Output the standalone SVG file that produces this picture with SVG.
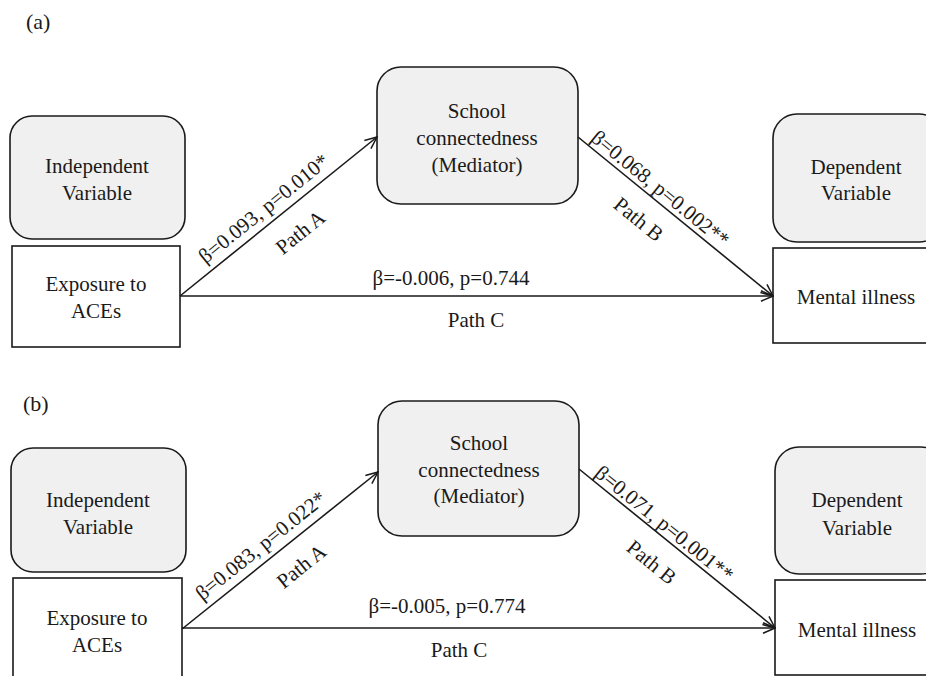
<svg xmlns="http://www.w3.org/2000/svg" width="926" height="676" viewBox="0 0 926 676">
<defs>
<marker id="arr" viewBox="0 0 14 12" refX="13" refY="6" markerWidth="14" markerHeight="12" markerUnits="userSpaceOnUse" orient="auto">
<path d="M1,0.8 L13,6 L1,11.2" fill="none" stroke="#1a1a1a" stroke-width="1.5"/>
</marker>
</defs>
<style>
text{font-family:"Liberation Serif","Times New Roman",serif;font-size:21px;fill:#1a1a1a;text-anchor:middle}
.lbl{font-size:22px;text-anchor:start}
.g{fill:#f0f0f0;stroke:#1a1a1a;stroke-width:1.6}
.w{fill:#ffffff;stroke:#1a1a1a;stroke-width:1.6}
.c{fill:none;stroke:#1a1a1a;stroke-width:1.6;marker-end:url(#arr)}
</style>
<rect width="926" height="676" fill="#ffffff"/>

<text class="lbl" x="26" y="29">(a)</text>
<text class="lbl" x="23" y="411">(b)</text>

<!-- Panel a nodes -->
<g id="a-indep"><rect class="g" x="10" y="116" width="175" height="123" rx="22"/><text x="97" y="173">Independent</text><text x="97" y="200">Variable</text></g>
<g id="a-exposure"><rect class="w" x="12" y="246" width="168" height="101"/><text x="96" y="291">Exposure to</text><text x="96" y="318">ACEs</text></g>
<g id="a-mediator"><rect class="g" x="377" y="67" width="201" height="137" rx="24"/><text x="477" y="118">School</text><text x="477" y="145">connectedness</text><text x="477" y="172">(Mediator)</text></g>
<g id="a-dep"><rect class="g" x="773" y="114" width="170" height="128" rx="24"/><text x="856" y="174">Dependent</text><text x="856" y="200">Variable</text></g>
<g id="a-mental"><rect class="w" x="773" y="248" width="170" height="95"/><text x="856" y="304">Mental illness</text></g>

<!-- Panel b nodes -->
<g id="b-indep"><rect class="g" x="11" y="448" width="175" height="124" rx="22"/><text x="98" y="507">Independent</text><text x="98" y="534">Variable</text></g>
<g id="b-exposure"><rect class="w" x="13" y="578" width="169" height="110"/><text x="97" y="625">Exposure to</text><text x="97" y="652">ACEs</text></g>
<g id="b-mediator"><rect class="g" x="378" y="401" width="201" height="135" rx="24"/><text x="479" y="450">School</text><text x="479" y="477">connectedness</text><text x="479" y="503">(Mediator)</text></g>
<g id="b-dep"><rect class="g" x="775" y="447" width="170" height="127" rx="24"/><text x="857" y="507">Dependent</text><text x="857" y="535">Variable</text></g>
<g id="b-mental"><rect class="w" x="775" y="580" width="170" height="95"/><text x="857" y="637">Mental illness</text></g>

<!-- Connectors -->
<g id="connectors">
<line class="c" x1="180" y1="296" x2="377" y2="137"/>
<line class="c" x1="578" y1="137" x2="773" y2="296"/>
<line class="c" x1="180" y1="296" x2="773" y2="296"/>
<line class="c" x1="182" y1="629" x2="378" y2="472"/>
<line class="c" x1="579" y1="469" x2="775" y2="628"/>
<line class="c" x1="182" y1="628" x2="775" y2="628"/>
</g>

<!-- Connector labels -->
<g id="labels">
<text transform="translate(268,214) rotate(-38.9)">β=0.093, p=0.010*</text>
<text transform="translate(301,233) rotate(-38.9)" y="6">Path A</text>
<text transform="translate(656,194) rotate(39.2)">β=0.068, p=0.002**</text>
<text transform="translate(638,220) rotate(39.2)" y="6">Path B</text>
<text x="451" y="285">β=-0.006, p=0.744</text>
<text x="476" y="327">Path C</text>

<text transform="translate(265,551) rotate(-38.7)">β=0.083, p=0.022*</text>
<text transform="translate(302,567) rotate(-38.7)" y="6">Path A</text>
<text transform="translate(660,529) rotate(39)">β=0.071, p=0.001**</text>
<text transform="translate(651,563) rotate(39)" y="6">Path B</text>
<text x="447" y="613">β=-0.005, p=0.774</text>
<text x="459" y="657">Path C</text>
</g>
</svg>
